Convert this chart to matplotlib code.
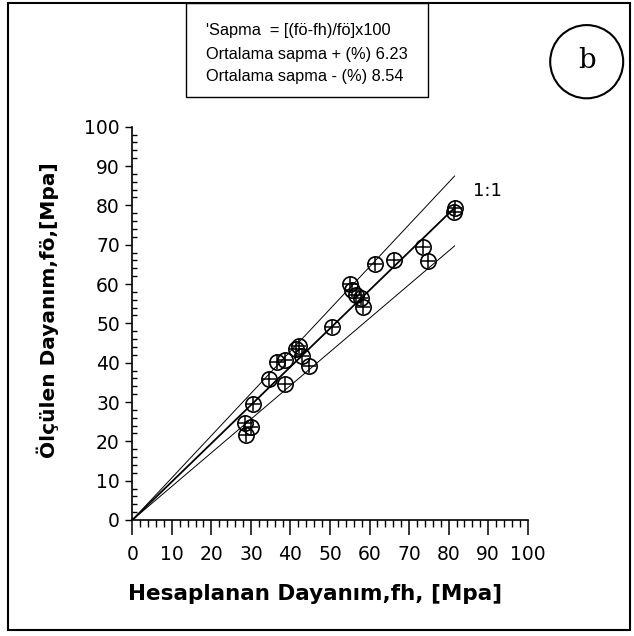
import matplotlib.pyplot as plt
from matplotlib.patches import Rectangle, Circle
from matplotlib.ticker import MultipleLocator
import numpy as np

# hesaplanan (fh) ve olculen (fo) dayanim, MPa
fh = [28.8, 28.5, 30.0, 30.5, 34.6, 36.6, 38.5, 38.7, 41.4, 42.2, 42.9, 44.8,
      50.5, 55.0, 55.6, 56.5, 57.8, 58.3, 61.3, 66.3, 73.4, 74.7, 81.3, 81.5]
fo = [21.6, 24.6, 23.7, 29.5, 35.8, 40.2, 40.7, 34.6, 43.5, 44.2, 41.6, 39.2,
      49.0, 60.1, 58.5, 57.2, 56.5, 54.2, 65.1, 66.0, 69.4, 65.8, 78.2, 79.3]

# referans cizgileri (egim), cizim ucu
line_slopes = [0.974, 1.073, 0.855]
line_end = 81.5

box_lines = ["'Sapma  = [(fö-fh)/fö]x100",
             "Ortalama sapma + (%) 6.23",
             "Ortalama sapma - (%) 8.54"]

fig = plt.figure(figsize=(6.34, 6.36), dpi=100)
ax = fig.add_axes([0.2087, 0.1824, 0.6237, 0.6184])

xs = np.array([0, line_end])
ax.plot(xs, line_slopes[0] * xs, color="black", lw=1.3, zorder=2)
ax.plot(xs, line_slopes[1] * xs, color="black", lw=0.7, zorder=2)
ax.plot(xs, line_slopes[2] * xs, color="black", lw=0.7, zorder=2)

ax.plot(fh, fo, "o", ms=11, mfc="none", mec="black", mew=1.2, zorder=3)
ax.plot(fh, fo, "+", ms=10, mec="black", mew=1.1, zorder=3)

ax.text(89.8, 83.7, "1:1", fontsize=13, ha="center", va="center")

ax.set_xlim(0, 100)
ax.set_ylim(0, 100)
for s in ["top", "right"]:
    ax.spines[s].set_visible(False)
ax.spines["left"].set_linewidth(1.2)
ax.spines["bottom"].set_linewidth(1.2)

ax.xaxis.set_major_locator(MultipleLocator(10))
ax.xaxis.set_minor_locator(MultipleLocator(2))
ax.yaxis.set_major_locator(MultipleLocator(10))
ax.yaxis.set_minor_locator(MultipleLocator(2))
ax.tick_params(axis="x", which="major", direction="out", length=11, width=1.1,
               pad=7, labelsize=13.5)
ax.tick_params(axis="x", which="minor", direction="out", length=5, width=1.0)
ax.tick_params(axis="y", which="major", direction="out", length=5, width=1.0,
               pad=4, labelsize=13.5)
ax.tick_params(axis="y", which="minor", direction="in", length=3.5, width=1.0)

fig.text(0.497, 0.066, "Hesaplanan Dayanım,fh, [Mpa]", fontsize=15.5,
         fontweight="heavy", ha="center", va="center")
fig.text(0.076, 0.512, "Ölçülen Dayanım,fö,[Mpa]", fontsize=14.5,
         fontweight="heavy", ha="center", va="center", rotation=90)

# cerceve ve bilgi kutusu
fig.patches.append(Rectangle((8 / 634, 1 - 630 / 636), 622 / 634, 627 / 636,
                             transform=fig.transFigure, fill=False,
                             ec="black", lw=1.5))
fig.patches.append(Rectangle((186 / 634, 1 - 97 / 636), 242 / 634, 94 / 636,
                             transform=fig.transFigure, fill=False,
                             ec="black", lw=1.0))
for i, t in enumerate(box_lines):
    fig.text(206 / 634, 1 - (31 + 23 * i) / 636, t, fontsize=11.8,
             family="Liberation Sans", ha="left", va="center")

fig.patches.append(Circle((586.7 / 634, 1 - 61.7 / 636), 36.5 / 634,
                          transform=fig.transFigure, fill=False,
                          ec="black", lw=1.5))
fig.text(586.7 / 634, 1 - 61 / 636, "b", fontsize=20, family="DejaVu Serif",
         ha="center", va="center")

fig.savefig("out.png", dpi=100)
